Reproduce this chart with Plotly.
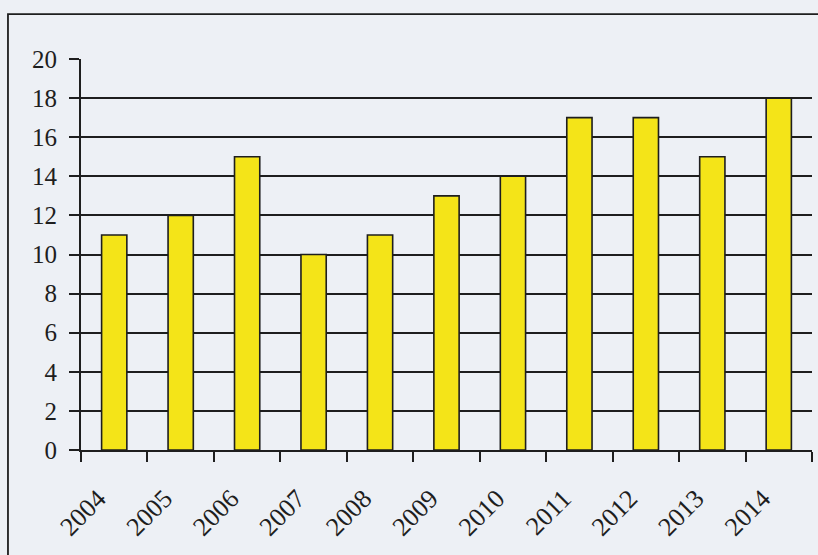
import plotly.graph_objects as go

years = ["2004", "2005", "2006", "2007", "2008", "2009", "2010", "2011", "2012", "2013", "2014"]
values = [11, 12, 15, 10, 11, 13, 14, 17, 17, 15, 18]
y_ticks = [0, 2, 4, 6, 8, 10, 12, 14, 16, 18, 20]
grid_vals = [2, 4, 6, 8, 10, 12, 14, 16, 18]

ink = "#1e1e1e"
paper = "#edf0f5"
font = dict(family="Liberation Serif, Times New Roman, serif", size=25, color=ink)
xfont = dict(family="Liberation Serif, Times New Roman, serif", size=26, color=ink)

fig = go.Figure()
fig.add_trace(go.Bar(
    x=years, y=values, width=0.38,
    marker=dict(color="#f4e418", line=dict(color=ink, width=1.6)),
    showlegend=False, hoverinfo="x+y",
))
# helper trace to carry the grid-only axis
fig.add_trace(go.Scatter(x=years, y=values, yaxis="y2", mode="none",
                         showlegend=False, hoverinfo="skip"))

fig.update_layout(
    width=818, height=555,
    margin=dict(l=81, r=6, t=59, b=105),
    paper_bgcolor=paper, plot_bgcolor=paper,
    font=font,
    xaxis=dict(
        type="category", tickson="boundaries", ticks="outside", ticklen=10,
        tickwidth=1.8, tickcolor=ink, showline=True, linecolor=ink, linewidth=2,
        tickangle=-45, showgrid=False, ticklabelstandoff=21, ticklabelshift=-16,
        tickfont=xfont,
    ),
    yaxis=dict(
        range=[0, 20], tickvals=y_ticks, ticks="outside", ticklen=10,
        tickwidth=1.8, tickcolor=ink, showline=True, linecolor=ink, linewidth=2,
        showgrid=False, zeroline=False, ticklabelstandoff=7, tickfont=font,
    ),
    yaxis2=dict(
        range=[0, 20], overlaying="y", side="left", tickvals=grid_vals,
        showticklabels=False, ticks="", showgrid=True, gridcolor=ink,
        gridwidth=1.8, zeroline=False, showline=False,
    ),
    shapes=[dict(type="rect", xref="paper", yref="paper",
                 x0=-0.0999, y0=-0.5, x1=1.2, y1=1.115,
                 line=dict(color=ink, width=1.8), layer="below")],
)

fig.write_html("out.html", config={"displayModeBar": False},
               post_script="document.body.style.margin='0';document.body.style.overflow='hidden';")
